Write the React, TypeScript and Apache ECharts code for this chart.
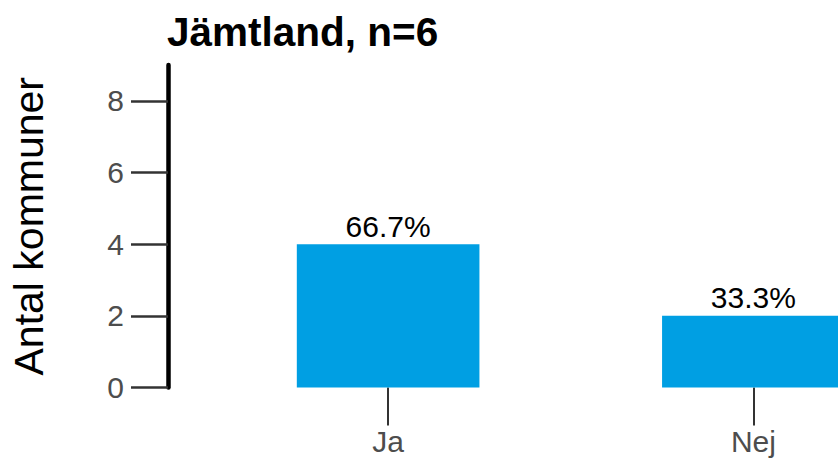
import React, { useEffect, useRef } from "react";
import * as echarts from "echarts";

const categories = ["Ja", "Nej"];
const counts = [4, 2];
const percentLabels = ["66.7%", "33.3%"];
const yTickValues = [0, 2, 4, 6, 8];
const yMax = 9;
const titleText = "Jämtland, n=6";
const yAxisName = "Antal kommuner";

const FONT = "'Liberation Sans', Arial, Helvetica, sans-serif";

export default function App() {
  const ref = useRef<HTMLDivElement>(null);
  useEffect(() => {
    if (!ref.current) return;
    const chart = echarts.init(ref.current, undefined, { renderer: "svg" });
    chart.setOption({
      animation: false,
      backgroundColor: "#ffffff",
      title: {
        text: titleText,
        left: 162,
        top: 6,
        textStyle: { fontFamily: FONT, fontSize: 40.5, fontWeight: "bold", color: "#000000" },
      },
      grid: { left: 204, right: 0, top: 65, bottom: 79.5, containLabel: false },
      xAxis: {
        type: "category",
        data: categories,
        axisLine: { show: false },
        axisTick: { show: true, alignWithLabel: true, length: 38, lineStyle: { color: "#333333", width: 2 } },
        axisLabel: { margin: 39, fontFamily: FONT, fontSize: 30, color: "#4d4d4d" },
        splitLine: { show: false },
      },
      yAxis: {
        type: "value",
        min: 0,
        max: yMax,
        offset: 37.5,
        name: yAxisName,
        nameLocation: "middle",
        nameGap: 119,
        nameTextStyle: { fontFamily: FONT, fontSize: 41, color: "#000000" },
        axisLine: { show: true, lineStyle: { color: "#000000", width: 4.5 } },
        axisTick: { show: true, length: 37, customValues: yTickValues, lineStyle: { color: "#333333", width: 2.5 } },
        axisLabel: { margin: 44, customValues: yTickValues, fontFamily: FONT, fontSize: 30, color: "#4d4d4d" },
        splitLine: { show: false },
      },
      series: [
        {
          type: "bar",
          data: counts,
          barWidth: "50%",
          itemStyle: { color: "#009fe3" },
          label: {
            show: true,
            position: "top",
            distance: 3,
            fontFamily: FONT,
            fontSize: 30,
            color: "#000000",
            formatter: (p: any) => percentLabels[p.dataIndex],
          },
        },
      ],
    });
    return () => chart.dispose();
  }, []);
  return (
    <div style={{ position: "fixed", left: 0, top: 0, width: 838, height: 467, overflow: "hidden" }}>
      <div ref={ref} style={{ width: 936, height: 467 }} />
    </div>
  );
}
